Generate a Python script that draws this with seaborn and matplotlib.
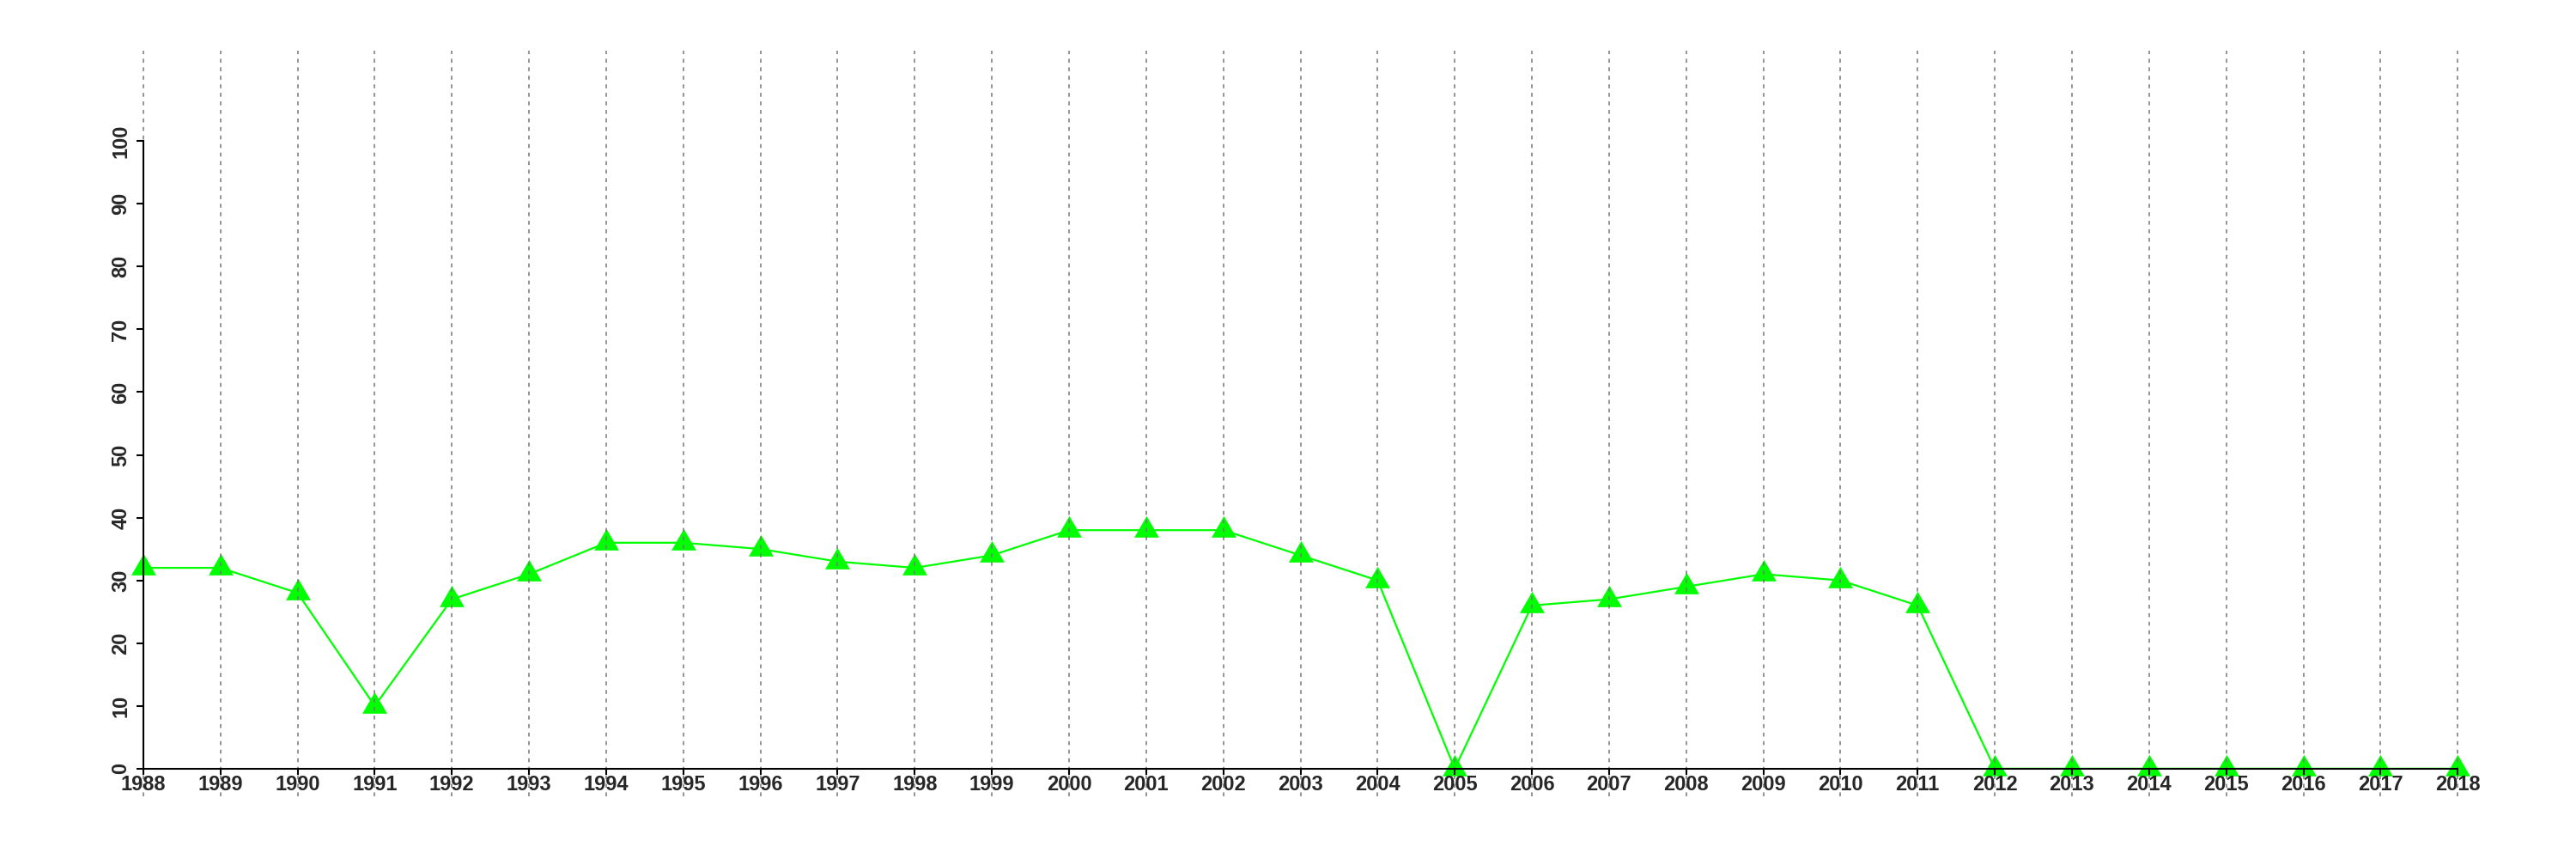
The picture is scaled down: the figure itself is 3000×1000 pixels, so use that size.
import matplotlib
matplotlib.use("Agg")
import matplotlib.pyplot as plt
import seaborn as sns
import pandas as pd

# Data
years = list(range(1988, 2019))
values = [32, 32, 28, 10, 27, 31, 36, 36, 35, 33, 32, 34, 38, 38, 38, 34, 30,
          0, 26, 27, 29, 31, 30, 26, 0, 0, 0, 0, 0, 0, 0]
y_ticks = list(range(0, 101, 10))

df = pd.DataFrame({"year": years, "value": values})

sns.set_style("white")
plt.rcParams["font.family"] = ["Liberation Sans", "DejaVu Sans"]
plt.rcParams["font.weight"] = "bold"

fig = plt.figure(figsize=(30, 10), dpi=100)
ax = fig.add_axes([0.0197, 0.073, 0.9703, 0.868])

sns.lineplot(data=df, x="year", y="value", ax=ax, color="#00ff00",
             linewidth=1.6, marker=(3, 0, 0), markersize=24,
             markeredgewidth=0, markerfacecolor="#00ff00")

# Axes drawn at data positions like R's axis()
for s in ["top", "right"]:
    ax.spines[s].set_visible(False)
ax.spines["left"].set_position(("data", years[0]))
ax.spines["left"].set_bounds(y_ticks[0], y_ticks[-1])
ax.spines["bottom"].set_position(("data", 0))
ax.spines["bottom"].set_bounds(years[0], years[-1])
for s in ["left", "bottom"]:
    ax.spines[s].set_linewidth(1.5)
    ax.spines[s].set_color("black")
    ax.spines[s].set_zorder(3)

# R-style 4% padding around the 0-110 / 1988-2018 range
ax.set_xlim(1986.8, 2019.2)
ax.set_ylim(-4.4, 114.4)

ax.set_xticks(years)
ax.set_xticklabels([str(y) for y in years])
ax.set_yticks(y_ticks)
ax.set_yticklabels([str(v) for v in y_ticks])
ax.set_xlabel("")
ax.set_ylabel("")

# Dotted vertical grid over the whole plot region
ax.set_axisbelow(False)
ax.xaxis.grid(True, color="#777777", linestyle=(0, (3, 3.5)), linewidth=1.1)
ax.yaxis.grid(False)

ax.tick_params(axis="x", direction="out", length=5, width=1.5, pad=0,
               bottom=True, color="black", labelsize=17)
ax.tick_params(axis="y", direction="out", length=5.5, width=1.5, pad=5,
               left=True, color="black", labelsize=17, labelrotation=90)
for lab in ax.get_yticklabels():
    lab.set_va("center")

fig.savefig("out.png", dpi=100)
